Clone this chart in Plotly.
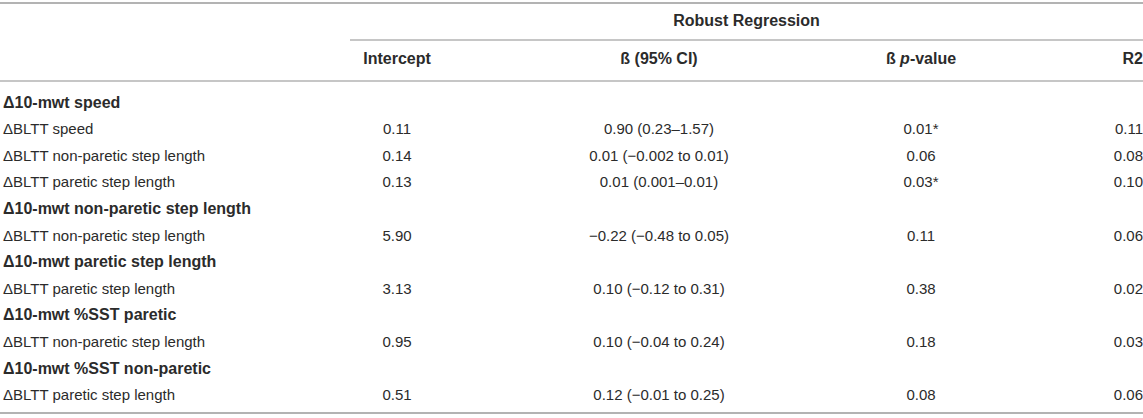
import plotly.graph_objects as go

# table content
row_labels = [
    "Δ10-mwt speed",
    "ΔBLTT speed",
    "ΔBLTT non-paretic step length",
    "ΔBLTT paretic step length",
    "Δ10-mwt non-paretic step length",
    "ΔBLTT non-paretic step length",
    "Δ10-mwt paretic step length",
    "ΔBLTT paretic step length",
    "Δ10-mwt %SST paretic",
    "ΔBLTT non-paretic step length",
    "Δ10-mwt %SST non-paretic",
    "ΔBLTT paretic step length",
]
is_group = [True, False, False, False, True, False, True, False, True, False, True, False]

intercept = ["", "0.11", "0.14", "0.13", "", "5.90", "", "3.13", "", "0.95", "", "0.51"]
beta_ci = ["", "0.90 (0.23–1.57)", "0.01 (−0.002 to 0.01)", "0.01 (0.001–0.01)", "",
           "−0.22 (−0.48 to 0.05)", "", "0.10 (−0.12 to 0.31)", "",
           "0.10 (−0.04 to 0.24)", "", "0.12 (−0.01 to 0.25)"]
beta_p = ["", "0.01*", "0.06", "0.03*", "", "0.11", "", "0.38", "", "0.18", "", "0.08"]
r2 = ["", "0.11", "0.08", "0.10", "", "0.06", "", "0.02", "", "0.03", "", "0.06"]

col_headers = ["Intercept", "ß (95% CI)", "ß <i>p</i>-value", "R2"]
span_header = "Robust Regression"

W, H = 1143, 418
TXT = "#2b2b2b"
LINE = "#b3b3b3"
FONT = "Liberation Sans, Arial, Helvetica, sans-serif"

# layout in pixels
row_y0, row_step = 104, 26.55
ys = [row_y0 + i * row_step for i in range(len(row_labels))]
col_x = [397, 659, 921]
r2_x = 1143
head_y = 60
span_y = 22

fig = go.Figure()

# row labels (group rows bold, a touch larger like the source)
grp = [i for i, g in enumerate(is_group) if g]
sub = [i for i, g in enumerate(is_group) if not g]
fig.add_trace(go.Scatter(
    x=[3] * len(grp), y=[ys[i] for i in grp], mode="text",
    text=[f"<b>{row_labels[i]}</b>" for i in grp],
    textposition="middle right",
    textfont=dict(family=FONT, size=16, color=TXT),
    hoverinfo="skip", showlegend=False))
fig.add_trace(go.Scatter(
    x=[3] * len(sub), y=[ys[i] for i in sub], mode="text",
    text=[row_labels[i] for i in sub],
    textposition="middle right",
    textfont=dict(family=FONT, size=15, color=TXT),
    hoverinfo="skip", showlegend=False))

# centred columns
for cx, vals in zip(col_x, [intercept, beta_ci, beta_p]):
    fig.add_trace(go.Scatter(
        x=[cx] * len(vals), y=ys, mode="text", text=vals,
        textposition="middle center",
        textfont=dict(family=FONT, size=15, color=TXT),
        hoverinfo="skip", showlegend=False))

# R2 right aligned
fig.add_trace(go.Scatter(
    x=[r2_x] * len(r2), y=ys, mode="text", text=r2,
    textposition="middle left",
    textfont=dict(family=FONT, size=15, color=TXT),
    hoverinfo="skip", showlegend=False))

# headers
fig.add_trace(go.Scatter(
    x=col_x + [r2_x], y=[head_y] * 4, mode="text",
    text=[f"<b>{h}</b>" for h in col_headers],
    textposition=["middle center"] * 3 + ["middle left"],
    textfont=dict(family=FONT, size=16, color=TXT),
    hoverinfo="skip", showlegend=False))

fig.add_trace(go.Scatter(
    x=[(350 + W) / 2], y=[span_y], mode="text",
    text=[f"<b>{span_header}</b>"], textposition="middle center",
    textfont=dict(family=FONT, size=16, color=TXT),
    hoverinfo="skip", showlegend=False))

# rules
rules = [(0, W, 3, 2), (350, W, 40, 1.5), (0, W, 81, 1.5), (0, W, 413, 2)]
for x0, x1, y, w in rules:
    fig.add_shape(type="line", x0=x0, x1=x1, y0=y, y1=y,
                  xref="x", yref="y", line=dict(color=LINE, width=w))

fig.update_xaxes(range=[0, W], visible=False, fixedrange=True)
fig.update_yaxes(range=[H, 0], visible=False, fixedrange=True)
fig.update_layout(width=W, height=H, margin=dict(l=0, r=0, t=0, b=0),
                  plot_bgcolor="white", paper_bgcolor="white")

# page has a default 8px body margin, drop it so the table fills the window
fig.write_html("out.html", config={"displayModeBar": False},
               post_script="document.body.style.margin='0px';")
